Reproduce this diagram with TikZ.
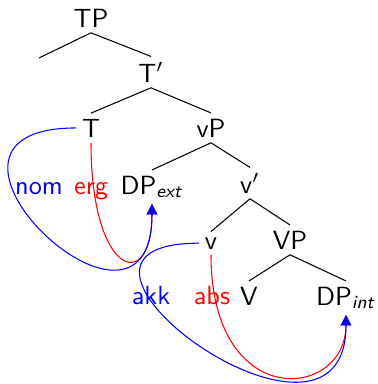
\documentclass[tikz,border=0pt]{standalone}
\usepackage{tikz}
\usetikzlibrary{arrows.meta}

\begin{document}
\begin{tikzpicture}[x=0.38pt,y=0.38pt,
        every node/.style={font=\sffamily,anchor=base,inner sep=2pt},
        casearrow/.style={-{Triangle[length=4pt,width=4pt]}}]
    \useasboundingbox (0,0) rectangle (377,-384);

    \node (TP) at (91,-27) {TP};
    \coordinate (Spec) at (39,-58);
    \node (Tbar) at (151,-82) {T$'$};
    \node (T) at (91,-137) {T};
    \node (vP) at (211,-137) {vP};
    \node (DPext) at (152,-194) {DP\textsubscript{\textit{ext}}};
    \node (vbar) at (250,-193) {v$'$};
    \node (v) at (211,-249) {v};
    \node (VP) at (290,-249) {VP};
    \node (V) at (249,-305) {V};
    \node (DPint) at (346,-305) {DP\textsubscript{\textit{int}}};

    \node[blue] (nom) at (39,-194) {nom};
    \node[red] (erg) at (91,-194) {erg};
    \node[blue] (akk) at (151,-304) {akk};
    \node[red] (abs) at (212,-304) {abs};

    \draw (TP.south) -- (Spec);
    \draw (TP.south) -- (Tbar.north);
    \draw (Tbar.south) -- (T.north);
    \draw (Tbar.south) -- (vP.north);
    \draw (vP.south) -- (DPext.north);
    \draw (vP.south) -- (vbar.north);
    \draw (vbar.south) -- (v.north);
    \draw (vbar.south) -- (VP.north);
    \draw (VP.south) -- (V.north);
    \draw (VP.south) -- (DPint.north);

    \draw[red,casearrow] (T.south) .. controls +(0,-135) and +(0,-90) .. (DPext.south);
    \draw[blue,casearrow] (T.west) .. controls +(-190,0) and +(0,-175) .. (DPext.south);
    \draw[red,casearrow] (v.south) .. controls +(0,-158) and +(0,-85) .. (DPint.south);
    \draw[blue,casearrow] (v.west) .. controls +(-194,0) and +(0,-176) .. (DPint.south);
\end{tikzpicture}
\end{document}
